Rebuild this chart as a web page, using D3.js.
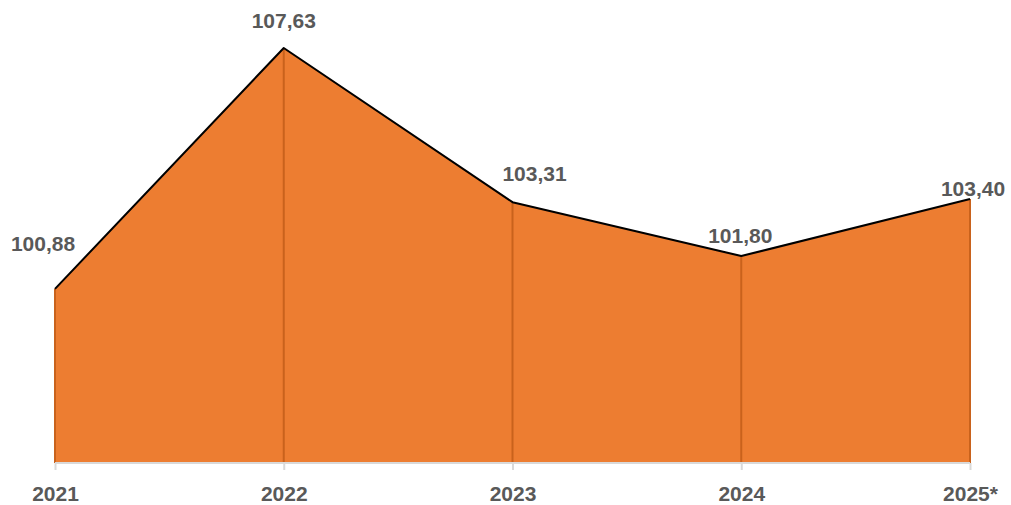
<!DOCTYPE html>
<html><head><meta charset="utf-8">
<script src="https://cdn.jsdelivr.net/npm/d3@7"></script>
<style>html,body{margin:0;padding:0;background:#fff;}</style>
</head><body>
<svg id="chart" width="1011" height="505"></svg>
<script>
const categories = ["2021", "2022", "2023", "2024", "2025*"];
const values = [100.88, 107.63, 103.31, 101.80, 103.40];
const valueLabels = ["100,88", "107,63", "103,31", "101,80", "103,40"];

const svg = d3.select("#chart");
const x = d3.scalePoint().domain(categories).range([55, 970]);
const y = d3.scaleLinear().domain([96, 107.63]).range([463, 48]);
const data = categories.map((c, i) => ({c, v: values[i], l: valueLabels[i]}));

const area = d3.area().x(d => x(d.c)).y0(y(96)).y1(d => y(d.v));
svg.append("path").datum(data).attr("d", area).attr("fill", "#ED7D31");

svg.selectAll(".drop").data(data).enter().append("line")
  .attr("x1", d => x(d.c)).attr("x2", d => x(d.c))
  .attr("y1", d => y(d.v)).attr("y2", y(96))
  .attr("stroke", "#C9621C").attr("stroke-width", 2);

const line = d3.line().x(d => x(d.c)).y(d => y(d.v));
svg.append("path").datum(data).attr("d", line).attr("fill", "none")
  .attr("stroke", "#000").attr("stroke-width", 2).attr("stroke-linejoin", "round");

const axis = d3.axisBottom(x).tickSize(7).tickPadding(16);
const g = svg.append("g").attr("transform", `translate(0,${y(96)})`).call(axis);
g.select(".domain").attr("stroke", "#D9D9D9").attr("stroke-width", 2).attr("d", "M55,0H970");
g.selectAll(".tick line").attr("stroke", "#D9D9D9").attr("stroke-width", 2);
g.selectAll(".tick text").attr("fill", "#595959").attr("font-family", "Liberation Sans, Arial, sans-serif")
  .attr("font-weight", "bold").attr("font-size", 21);

const offsets = [[-12, -38], [0, -20], [22, -21], [-1, -13], [3, -3]];
svg.selectAll(".lbl").data(data).enter().append("text")
  .attr("x", (d, i) => x(d.c) + offsets[i][0])
  .attr("y", (d, i) => y(d.v) + offsets[i][1])
  .attr("text-anchor", "middle")
  .attr("fill", "#595959").attr("font-family", "Liberation Sans, Arial, sans-serif")
  .attr("font-weight", "bold").attr("font-size", 21)
  .text(d => d.l);
</script>
</body></html>
